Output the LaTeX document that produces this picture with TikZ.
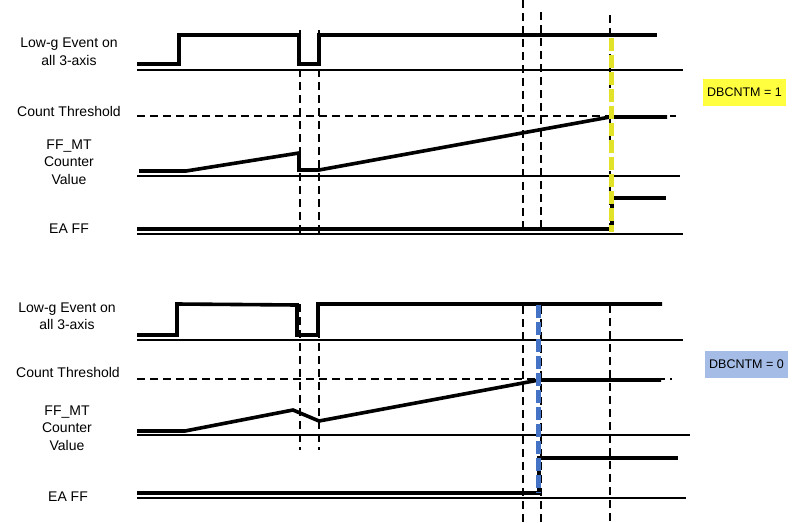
\documentclass[tikz,border=0pt]{standalone}
\usepackage{fontspec}
\setmainfont{Liberation Sans}
\definecolor{hlyellow}{RGB}{226,226,40}
\definecolor{boxyellow}{RGB}{255,255,64}
\definecolor{hlblue}{RGB}{68,114,196}
\definecolor{boxblue}{RGB}{164,188,230}
\begin{document}
\begin{tikzpicture}[x=1pt, y=-1pt,
  sig/.style={line width=3.6pt},
  axis/.style={line width=1.8pt},
  guide/.style={line width=1.8pt, dash pattern=on 8pt off 5pt},
  lbl/.style={font=\fontsize{14}{17.5}\selectfont, align=center},
  mode/.style={font=\fontsize{12.5}{15}\selectfont, inner xsep=4pt,
               minimum width=83pt, minimum height=27pt},
  hilite/.style={line width=5pt, dash pattern=on 13pt off 4pt}
]
  \useasboundingbox (0,0) rectangle (800,522);

  % Labels (DBCNTM = 1)
  \node[lbl] (lowA) at (69,52) {Low-g Event on\\all 3-axis};
  \node[lbl] (thrA) at (69,111) {Count Threshold};
  \node[lbl] (cntA) at (69,162) {FF\_MT\\Counter\\Value};
  \node[lbl] (eaA) at (69,229) {EA FF};

  % Axes
  \draw[axis] (137,70) -- (683,70);
  \draw[guide] (137,116) -- (676,116);
  \draw[axis] (137,176) -- (680,176);
  \draw[axis] (137,234) -- (683,234);

  % Time markers
  \draw[guide] (300,30) -- (300,234);
  \draw[guide] (319,30) -- (319,234);
  \draw[guide] (523,0) -- (523,234);
  \draw[guide] (541,12) -- (541,232);
  \draw[guide] (610,15) -- (610,234);

  % Waveforms
  \draw[sig] (137,64) -- (179,64) -- (179,35) -- (299,35) -- (299,64)
    -- (319,64) -- (319,35) -- (657,35);
  \draw[sig] (139,171) -- (186,171) -- (299,153) -- (299,170) -- (319,170)
    -- (610,117) -- (667,117);
  \draw[sig] (137,229) -- (612,229) -- (612,198) -- (666,198);

  \draw[hilite, hlyellow] (611,38) -- (611,232);
  \node[mode, fill=boxyellow] (dbA) at (744.5,92.5) {DBCNTM = 1};

  % Labels (DBCNTM = 0)
  \node[lbl] (lowB) at (67,316) {Low-g Event on\\all 3-axis};
  \node[lbl] (thrB) at (68,372) {Count Threshold};
  \node[lbl] (cntB) at (67,428) {FF\_MT\\Counter\\Value};
  \node[lbl] (eaB) at (68,497) {EA FF};

  % Axes
  \draw[axis] (137,340) -- (683,340);
  \draw[guide] (137,379) -- (672,379);
  \draw[axis] (137,435) -- (690,435);
  \draw[axis] (137,498) -- (686,498);

  % Time markers
  \draw[guide] (300,304) -- (300,450);
  \draw[guide] (319,304) -- (319,450);
  \draw[guide] (523,306) -- (523,522);
  \draw[guide] (541,306) -- (541,522);
  \draw[guide] (610,305) -- (610,522);

  % Waveforms
  \draw[sig] (137,335) -- (177,335) -- (177,304) -- (297,305) -- (297,335)
    -- (318,335) -- (318,304) -- (662,304);
  \draw[sig] (137,431) -- (185,431) -- (293,410) -- (319,421) -- (539,380)
    -- (661,380);
  \draw[sig] (137,493) -- (539,493) -- (539,458) -- (678,458);

  \draw[hilite, hlblue] (538,305) -- (538,493);
  \node[mode, fill=boxblue] (dbB) at (746.5,364) {DBCNTM = 0};
\end{tikzpicture}
\end{document}
